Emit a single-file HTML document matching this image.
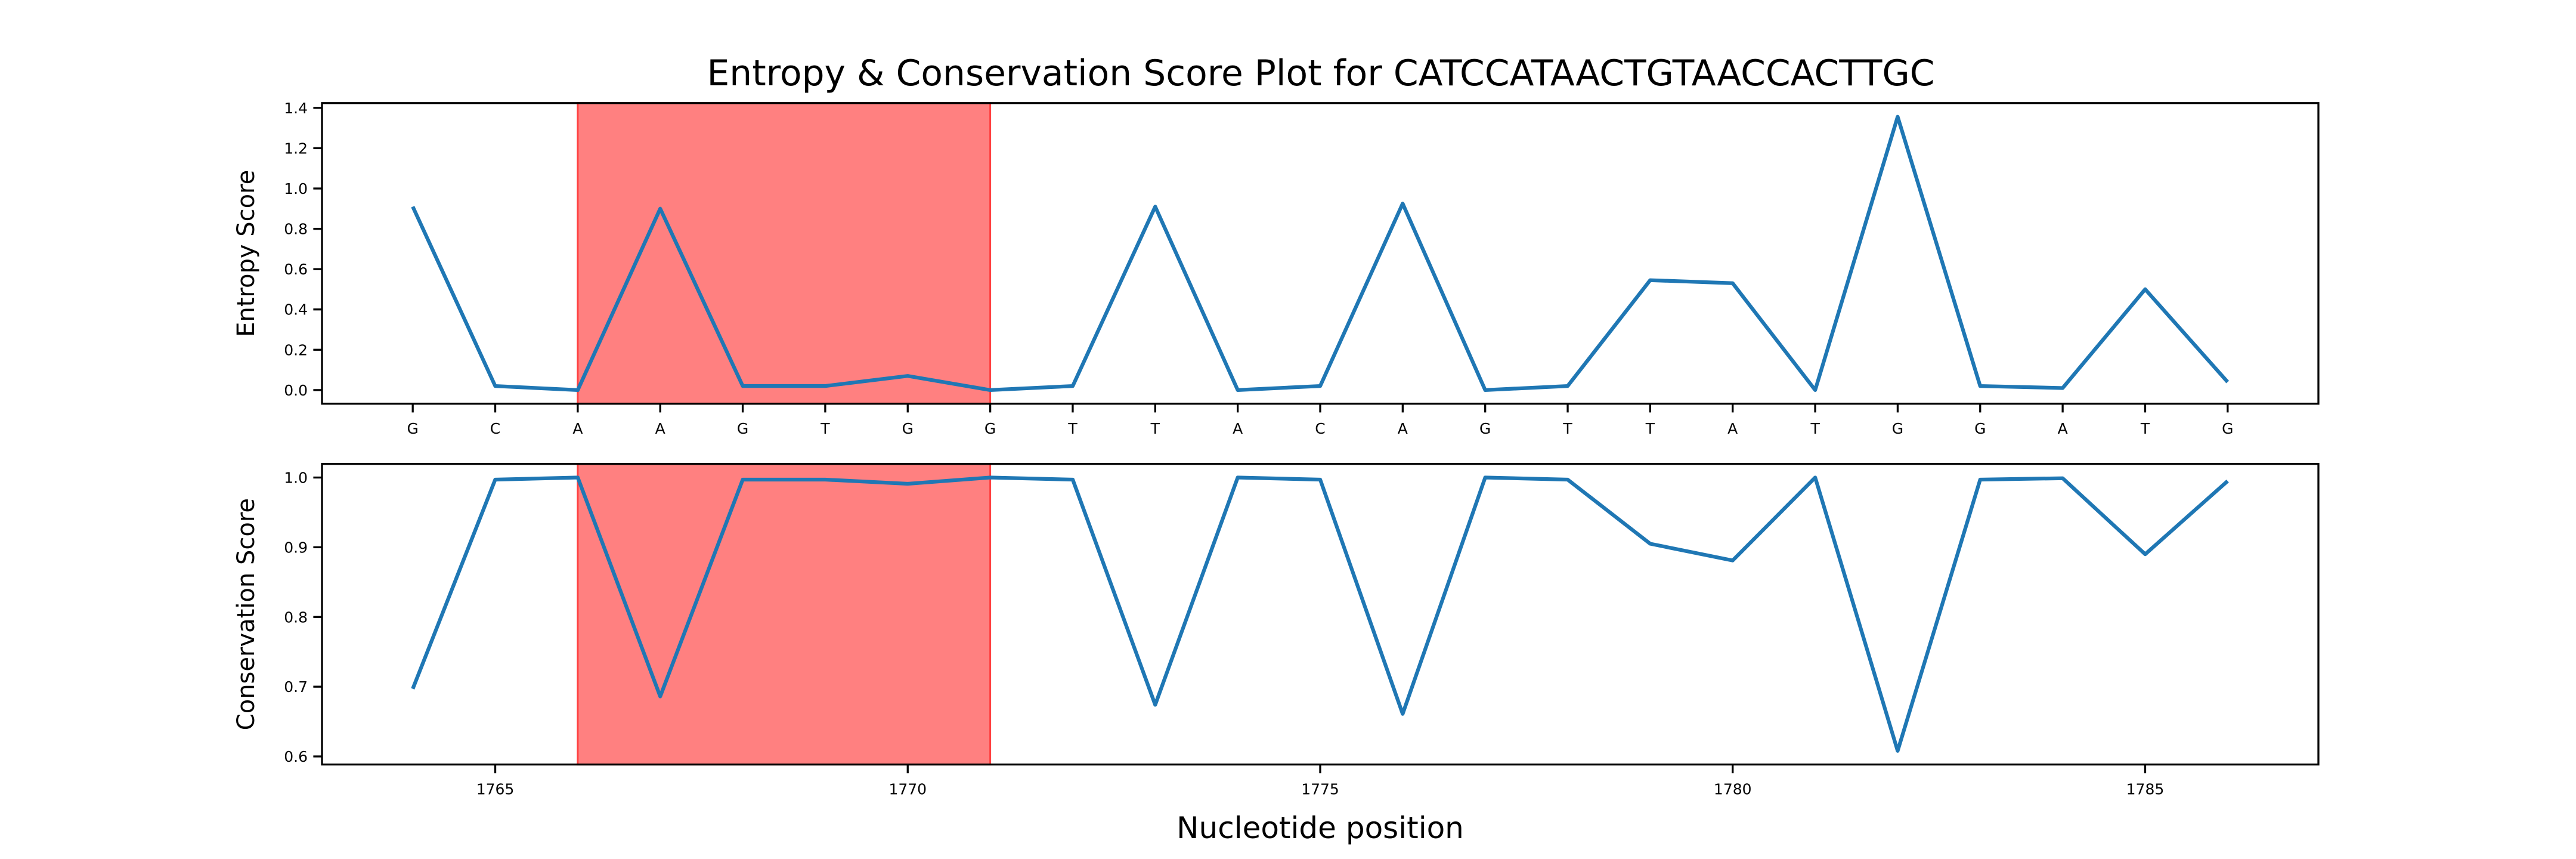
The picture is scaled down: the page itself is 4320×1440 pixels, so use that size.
<!DOCTYPE html>
<html><head><meta charset="utf-8"><style>
html,body{margin:0;padding:0;background:#fff;}
svg{display:block;font-family:"DejaVu Sans","Liberation Sans",sans-serif;}
</style></head><body>
<svg id="chart" xmlns="http://www.w3.org/2000/svg" width="4320" height="1440" viewBox="0 0 4320 1440">
<rect width="4320" height="1440" fill="#fff"/>
<text x="2215" y="143" font-size="60" text-anchor="middle" textLength="2059" lengthAdjust="spacingAndGlyphs">Entropy &amp; Conservation Score Plot for CATCCATAACTGTAACCACTTGC</text>
<text x="2214" y="1405" font-size="50" text-anchor="middle">Nucleotide position</text>
<g id="top"></g>
<g id="bot"></g>
</svg>
<script>
const nucleotides = ["G","C","A","A","G","T","G","G","T","T","A","C","A","G","T","T","A","T","G","G","A","T","G"];
const positions = [1764,1765,1766,1767,1768,1769,1770,1771,1772,1773,1774,1775,1776,1777,1778,1779,1780,1781,1782,1783,1784,1785,1786];
const entropy = [0.91,0.02,0.0,0.90,0.02,0.02,0.07,0.0,0.02,0.91,0.0,0.02,0.925,0.0,0.02,0.545,0.53,0.0,1.356,0.02,0.01,0.50,0.04];
const conservation = [0.697,0.997,1.0,0.686,0.997,0.997,0.991,1.0,0.997,0.674,1.0,0.997,0.661,1.0,0.997,0.905,0.881,1.0,0.608,0.997,0.999,0.89,0.995];
const entropyTicks = [0.0,0.2,0.4,0.6,0.8,1.0,1.2,1.4];
const conservationTicks = [0.6,0.7,0.8,0.9,1.0];
const positionTicks = [1765,1770,1775,1780,1785];
const highlightRange = [1766,1771];

const NS="http://www.w3.org/2000/svg";
function mk(parent,tag,attrs){const e=document.createElementNS(NS,tag);for(const k in attrs)e.setAttribute(k,attrs[k]);parent.appendChild(e);return e;}
const L=540,R=3888;
function panel(g,top,bottom,vals,ticks,fmt,yLabel,isTop){
  const n=positions.length;
  const x0=positions[0],x1=positions[n-1],xr=x1-x0;
  const xmin=x0-0.05*xr,xmax=x1+0.05*xr;
  const vmin=Math.min(...vals),vmax=Math.max(...vals),vr=vmax-vmin;
  const ymin=vmin-0.05*vr,ymax=vmax+0.05*vr;
  const X=v=>L+(v-xmin)/(xmax-xmin)*(R-L);
  const Y=v=>bottom-(v-ymin)/(ymax-ymin)*(bottom-top);
  const span=mk(g,'rect',{x:X(highlightRange[0]),y:top,width:X(highlightRange[1])-X(highlightRange[0]),height:bottom-top,fill:'#ff8080',stroke:'#ff4040','stroke-width':3});
  
  
  const pts=vals.map((v,i)=>X(positions[i]).toFixed(1)+','+Y(v).toFixed(1)).join(' ');
  const line=mk(g,'polyline',{points:pts,fill:'none',stroke:'#1f77b4','stroke-width':6.25,'stroke-linejoin':'round'});
  
  
  const frame=mk(g,'rect',{x:L,y:top,width:R-L,height:bottom-top,fill:'none',stroke:'#000','stroke-width':3.3});
  
  
  ticks.forEach(t=>{
    const y=Y(t);
    mk(g,'line',{x1:L-14.6,x2:L,y1:y,y2:y,stroke:'#000','stroke-width':3.3});
    const tx=mk(g,'text',{x:L-24,y:y+9,'font-size':25,'text-anchor':'end'});
    tx.textContent=fmt(t);
    
    
  });
  if(isTop){
    positions.forEach((p,i)=>{
      const x=X(p);
      mk(g,'line',{x1:x,x2:x,y1:bottom,y2:bottom+14.6,stroke:'#000','stroke-width':3.3});
      const tx=mk(g,'text',{x:x,y:bottom+50,'font-size':25,'text-anchor':'middle'});
      tx.textContent=nucleotides[i];
      
      
    });
  } else {
    positionTicks.forEach(p=>{
      const x=X(p);
      mk(g,'line',{x1:x,x2:x,y1:bottom,y2:bottom+14.6,stroke:'#000','stroke-width':3.3});
      const tx=mk(g,'text',{x:x,y:bottom+50,'font-size':25,'text-anchor':'middle'});
      tx.textContent=String(p);
      
      
    });
  }
  const cy=(top+bottom)/2;
  const lab=mk(g,'text',{x:0,y:0,'font-size':40,'text-anchor':'middle',transform:`translate(${isTop?426:426},${cy}) rotate(-90)`});
  lab.textContent=yLabel;
  
  
}
panel(document.getElementById('top'),172.8,676.8,entropy,entropyTicks,t=>t.toFixed(1),'Entropy Score',true);
panel(document.getElementById('bot'),777.6,1281.6,conservation,conservationTicks,t=>t.toFixed(1),'Conservation Score',false);
</script>
</body></html>
